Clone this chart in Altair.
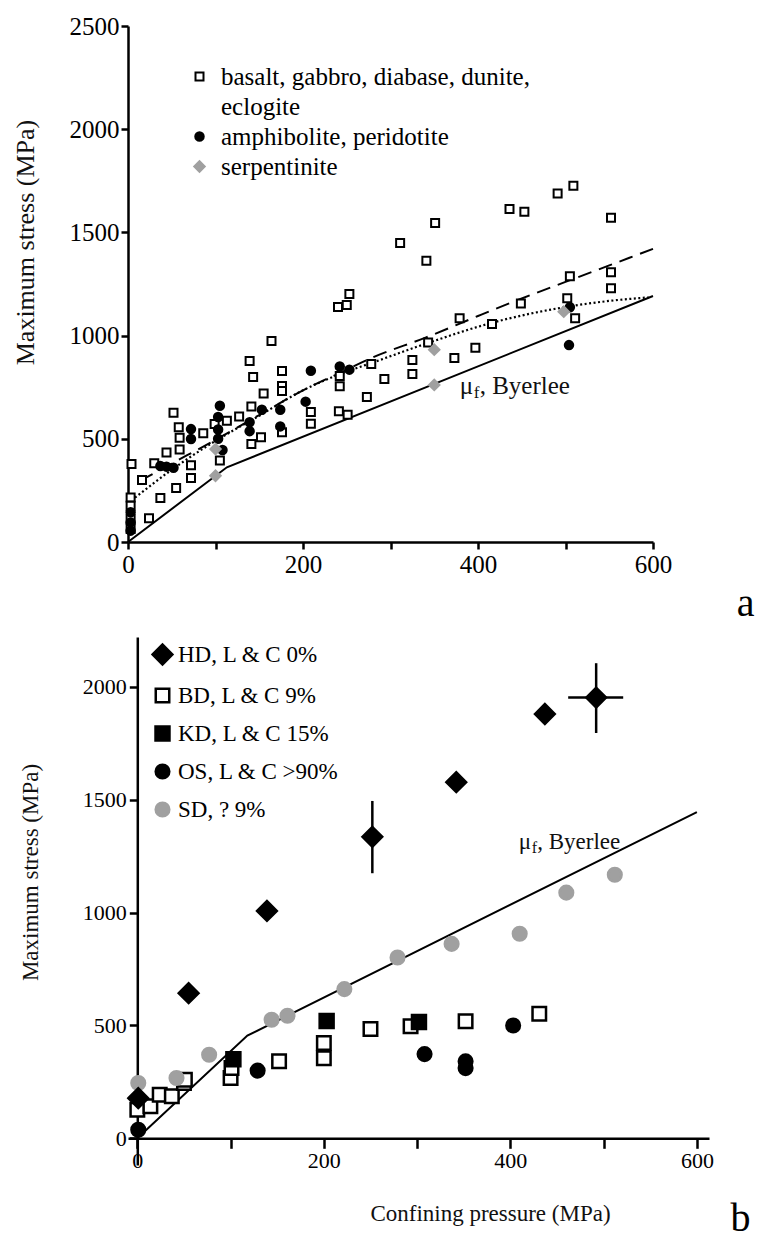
import altair as alt
import pandas as pd

FONT = "Liberation Serif"
GREY = "#a0a0a0"

# ---------------- Panel a data (confining pressure MPa, maximum stress MPa) ----------------
a_cats = ["basalt, gabbro, diabase, dunite,", "eclogite", "amphibolite, peridotite", "serpentinite"]
a_basalt = [(4, 378), (16, 300), (3, 216), (3, 176), (3, 111), (3, 63), (24, 115), (37, 213), (30, 382),
            (44, 434), (55, 262), (52, 626), (58, 556), (59, 505), (59, 448), (72, 372), (72, 310), (86, 527),
            (99, 572), (113, 587), (105, 395), (127, 608), (139, 877), (143, 800), (141, 657), (141, 475),
            (152, 508), (155, 720), (164, 974), (176, 828), (176, 756), (176, 732), (176, 532), (209, 630),
            (209, 573), (240, 1139), (250, 1148), (253, 1202), (242, 804), (242, 755), (241, 633), (251, 617),
            (273, 702), (278, 862), (293, 790), (311, 1449), (341, 1363), (351, 1546), (325, 882), (325, 814),
            (343, 967), (373, 891), (379, 1084), (397, 941), (416, 1056), (436, 1613), (453, 1600), (449, 1156),
            (491, 1689), (509, 1726), (552, 1571), (552, 1307), (552, 1229), (505, 1287), (502, 1181), (511, 1084)]
a_amph = [(3, 144), (3, 95), (3, 55), (37, 368), (44, 365), (52, 360), (72, 547), (72, 499), (105, 660),
          (103, 606), (103, 545), (103, 500), (108, 446), (139, 580), (139, 537), (153, 641), (174, 641),
          (174, 560), (203, 680), (209, 830), (242, 850), (253, 835), (504, 954), (505, 1137)]
a_serp = [(100, 450), (100, 321), (350, 932), (350, 761), (498, 1116)]

a_byerlee_p = [0, 113, 600]
a_byerlee_s = [0, 362, 1192]
a_dotted_p = [8, 50, 100, 150, 200, 240, 280, 340, 416, 498, 550, 595]
a_dotted_s = [215, 350, 490, 612, 735, 810, 870, 960, 1062, 1137, 1168, 1185]
a_dashed_p = [14, 50, 100, 150, 200, 240, 280, 340, 400, 450, 500, 550, 600]
a_dashed_s = [297, 380, 495, 615, 735, 815, 895, 990, 1095, 1180, 1260, 1340, 1420]
a_label_pos = (379, 756)
a_panel_pos = (716, -358)

# ---------------- Panel b data ----------------
b_cats = ["HD, L & C 0%", "BD, L & C 9%", "KD, L & C 15%", "OS, L & C >90%", "SD, ? 9%"]
b_hd = [(1, 178), (55, 643), (139, 1007), (252, 1335), (342, 1577), (437, 1879), (492, 1952)]
b_bd = [(0, 127), (14, 142), (24, 193), (37, 186), (50, 245), (51, 260), (100, 267), (101, 311), (152, 341),
        (200, 422), (200, 355), (250, 484), (293, 496), (352, 518), (431, 552)]
b_kd = [(103, 350), (203, 520), (302, 515)]
b_os = [(1, 38), (129, 300), (308, 373), (352, 341), (352, 311), (403, 500)]
b_sd = [(1, 245), (42, 267), (77, 370), (144, 525), (161, 543), (222, 661), (279, 801), (337, 861),
        (410, 906), (460, 1088), (512, 1167)]
b_verr_p = [252, 492]
b_verr_lo = [1174, 1795]
b_verr_hi = [1494, 2104]
b_herr_s = [1952]
b_herr_lo = [462]
b_herr_hi = [521]
b_byerlee_p = [0, 118, 600]
b_byerlee_s = [0, 455, 1445]
b_label_pos = (409, 1314)
b_panel_pos = (636, -410)


def pts(pairs, cat):
    return pd.DataFrame({"P": [p for p, _ in pairs], "S": [s for _, s in pairs], "cat": cat})


def line_df(ps, ss):
    return pd.DataFrame({"P": ps, "S": ss})


# ---------------- Panel a chart ----------------
AX_A_X = alt.Axis(values=list(range(0, 601, 100)), format="d",
                  labelExpr="datum.value % 200 == 0 ? datum.label : ''",
                  title=None, grid=False, domainColor="black", domainWidth=2.5, tickColor="black",
                  tickWidth=2.5, tickSize=7, labelFont=FONT, labelFontSize=25, labelColor="black",
                  labelPadding=3, labelFlush=False, labelOverlap=False)
AX_A_Y = alt.Axis(values=list(range(0, 2501, 500)), format="d", title="Maximum stress (MPa)", grid=False,
                  domainColor="black", domainWidth=2.5, tickColor="black", tickWidth=2.5, tickSize=7,
                  labelFont=FONT, labelFontSize=25, labelColor="black", labelPadding=2, labelFlush=False,
                  titleFont=FONT, titleFontSize=26, titleFontWeight="normal", titleColor="#111111",
                  titleX=-103, titleY=216, titleAngle=270, titleAlign="center", titleBaseline="middle")


def xa():
    return alt.X("P:Q", scale=alt.Scale(domain=[0, 600], nice=False, zero=False), axis=AX_A_X)


def ya():
    return alt.Y("S:Q", scale=alt.Scale(domain=[0, 2500], nice=False, zero=False), axis=AX_A_Y)


a_df = pd.concat([pts(a_basalt, a_cats[0]), pts(a_amph, a_cats[2]), pts(a_serp, a_cats[3])])
leg_a = alt.Legend(title=None, orient="none", legendX=59, legendY=38, labelFont=FONT, labelFontSize=25,
                   labelColor="black", labelLimit=600, rowPadding=4, labelOffset=9, symbolStrokeWidth=2,
                   padding=0)

a_points = alt.Chart(a_df).mark_point(strokeWidth=2, opacity=1, fillOpacity=1).encode(
    x=xa(), y=ya(),
    shape=alt.Shape("cat:N", scale=alt.Scale(domain=a_cats, range=["square", "square", "circle", "diamond"]), legend=leg_a),
    fill=alt.Fill("cat:N", scale=alt.Scale(domain=a_cats, range=["white", "transparent", "black", GREY]), legend=leg_a),
    stroke=alt.Stroke("cat:N", scale=alt.Scale(domain=a_cats, range=["black", "transparent", "black", GREY]), legend=leg_a),
    size=alt.Size("cat:N", scale=alt.Scale(type="ordinal", domain=a_cats, range=[64, 64, 72, 110]), legend=leg_a),
)

a_solid = alt.Chart(line_df(a_byerlee_p, a_byerlee_s)).mark_line(color="black", strokeWidth=2).encode(x=xa(), y=ya())
a_dot = alt.Chart(line_df(a_dotted_p, a_dotted_s)).mark_line(color="black", strokeWidth=2.2, strokeDash=[2, 2.5], interpolate="monotone").encode(x=xa(), y=ya())
a_dash = alt.Chart(line_df(a_dashed_p, a_dashed_s)).mark_line(color="black", strokeWidth=2, strokeDash=[14, 8], interpolate="monotone").encode(x=xa(), y=ya())

a_lab = pd.DataFrame({"P": [a_label_pos[0]], "S": [a_label_pos[1]]})
a_mu = alt.Chart(a_lab).mark_text(align="left", baseline="middle", font=FONT, fontSize=25, color="#111111").encode(x=xa(), y=ya(), text=alt.value("μ"))
a_f = alt.Chart(a_lab).mark_text(align="left", baseline="middle", font=FONT, fontSize=17, color="#111111", dx=14, dy=7).encode(x=xa(), y=ya(), text=alt.value("f"))
a_by = alt.Chart(a_lab).mark_text(align="left", baseline="middle", font=FONT, fontSize=25, color="#111111", dx=20).encode(x=xa(), y=ya(), text=alt.value(", Byerlee"))
a_pan = alt.Chart(pd.DataFrame({"P": [a_panel_pos[0]], "S": [a_panel_pos[1]]})).mark_text(
    align="right", baseline="alphabetic", font=FONT, fontSize=40, color="black").encode(x=xa(), y=ya(), text=alt.value("a"))

top = alt.layer(a_solid, a_dot, a_dash, a_points, a_mu, a_f, a_by, a_pan).properties(width=525, height=516)

# ---------------- Panel b chart ----------------
AX_B_X = alt.Axis(values=list(range(0, 601, 100)), format="d",
                  labelExpr="datum.value % 200 == 0 ? datum.label : ''",
                  title="Confining pressure (MPa)", grid=False, offset=-26.7, domainColor="black",
                  domainWidth=2.5, tickColor="black", tickWidth=2.5, tickSize=10, labelFont=FONT,
                  labelFontSize=22, labelColor="black", labelPadding=2, labelFlush=False, labelOverlap=False,
                  titleFont=FONT, titleFontSize=23, titleFontWeight="normal", titleColor="#111111",
                  titleX=362, titleY=75, titleAlign="center", titleBaseline="middle")
AX_B_Y = alt.Axis(values=list(range(0, 2001, 500)), format="d", title="Maximum stress (MPa)", grid=False,
                  offset=-9.3, domainColor="black", domainWidth=2.5, tickColor="black", tickWidth=2.5,
                  tickSize=8, labelFont=FONT, labelFontSize=22, labelColor="black", labelPadding=3,
                  labelFlush=False, titleFont=FONT, titleFontSize=23, titleFontWeight="normal",
                  titleColor="#111111", titleX=-107, titleY=235, titleAngle=270, titleAlign="center",
                  titleBaseline="middle")


def xb(field="P"):
    return alt.X(f"{field}:Q", scale=alt.Scale(domain=[-10, 613], nice=False, zero=False), axis=AX_B_X)


def yb(field="S"):
    return alt.Y(f"{field}:Q", scale=alt.Scale(domain=[-118, 2220], nice=False, zero=False), axis=AX_B_Y)


b_df = pd.concat([pts(b_bd, b_cats[1]), pts(b_kd, b_cats[2]), pts(b_os, b_cats[3]), pts(b_sd, b_cats[4]),
                  pts(b_hd, b_cats[0])])
leg_b = alt.Legend(title=None, orient="none", legendX=23, legendY=6, labelFont=FONT, labelFontSize=23,
                   labelColor="black", labelLimit=600, rowPadding=13, labelOffset=4, symbolStrokeWidth=2.5,
                   padding=0)

b_points = alt.Chart(b_df).mark_point(strokeWidth=2.5, opacity=1, fillOpacity=1).encode(
    x=xb(), y=yb(),
    shape=alt.Shape("cat:N", scale=alt.Scale(domain=b_cats, range=["diamond", "square", "square", "circle", "circle"]), legend=leg_b),
    fill=alt.Fill("cat:N", scale=alt.Scale(domain=b_cats, range=["black", "white", "black", "black", GREY]), legend=leg_b),
    stroke=alt.Stroke("cat:N", scale=alt.Scale(domain=b_cats, range=["black", "black", "black", "black", GREY]), legend=leg_b),
    size=alt.Size("cat:N", scale=alt.Scale(type="ordinal", domain=b_cats, range=[390, 182, 195, 185, 185]), legend=leg_b),
)

b_solid = alt.Chart(line_df(b_byerlee_p, b_byerlee_s)).mark_line(color="black", strokeWidth=2).encode(x=xb(), y=yb())
b_verr = alt.Chart(pd.DataFrame({"P": b_verr_p, "S": b_verr_lo, "S2": b_verr_hi})).mark_rule(color="black", strokeWidth=2.5).encode(
    x=xb(), y=yb(), y2=alt.Y2("S2:Q"))
b_herr = alt.Chart(pd.DataFrame({"P": b_herr_lo, "P2": b_herr_hi, "S": b_herr_s})).mark_rule(color="black", strokeWidth=2.5).encode(
    x=xb(), x2=alt.X2("P2:Q"), y=yb())

b_lab = pd.DataFrame({"P": [b_label_pos[0]], "S": [b_label_pos[1]]})
b_mu = alt.Chart(b_lab).mark_text(align="left", baseline="middle", font=FONT, fontSize=23, color="#111111").encode(x=xb(), y=yb(), text=alt.value("μ"))
b_f = alt.Chart(b_lab).mark_text(align="left", baseline="middle", font=FONT, fontSize=16, color="#111111", dx=13, dy=6).encode(x=xb(), y=yb(), text=alt.value("f"))
b_by = alt.Chart(b_lab).mark_text(align="left", baseline="middle", font=FONT, fontSize=23, color="#111111", dx=18.5).encode(x=xb(), y=yb(), text=alt.value(", Byerlee"))
b_pan = alt.Chart(pd.DataFrame({"P": [b_panel_pos[0]], "S": [b_panel_pos[1]]})).mark_text(
    align="left", baseline="alphabetic", font=FONT, fontSize=40, color="black").encode(x=xb(), y=yb(), text=alt.value("b"))

bottom = alt.layer(b_solid, b_verr, b_herr, b_points, b_mu, b_f, b_by, b_pan).properties(width=581, height=528)

chart = alt.vconcat(top, bottom, spacing=13).resolve_scale(
    x="independent", y="independent", shape="independent", fill="independent", stroke="independent",
    size="independent").resolve_legend(shape="independent", fill="independent", stroke="independent",
                                      size="independent").resolve_axis(x="independent", y="independent").properties(
    padding={"left": 4, "top": 6, "right": 0, "bottom": 0}, background="white"
).configure(font=FONT).configure_view(stroke=None)

chart.save("out.html", embed_options={"renderer": "svg", "actions": False})
